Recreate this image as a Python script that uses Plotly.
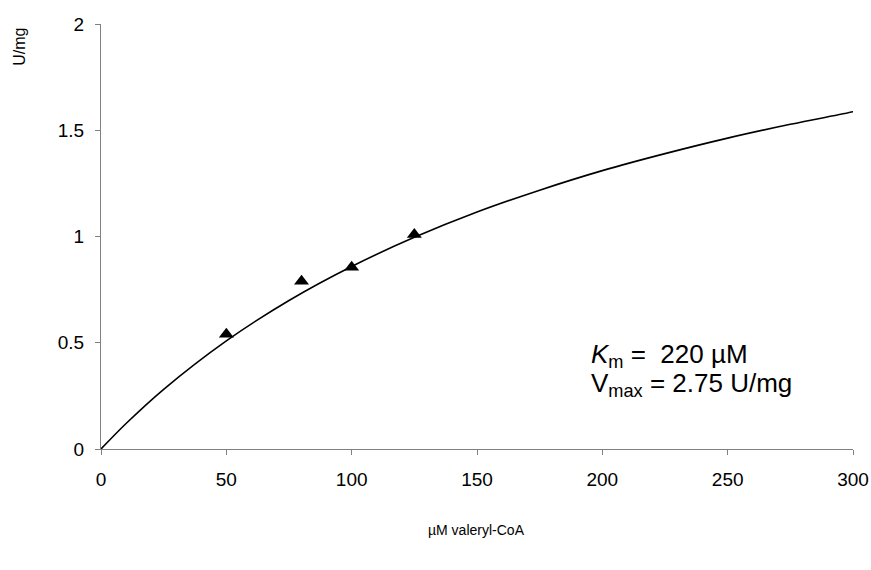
import plotly.graph_objects as go

# Measured data points
substrate_uM = [50, 80, 100, 125]
activity_U_mg = [0.54, 0.79, 0.855, 1.01]

# Fitted curve
fit_x = [0, 10, 25, 50, 75, 100, 125, 150, 175, 200, 225, 250, 275, 300, 303]
fit_y = [0, 0.12, 0.281, 0.509, 0.699, 0.859, 0.996, 1.115, 1.218, 1.31, 1.39, 1.463, 1.528, 1.587, 1.596]

x_ticks = [0, 50, 100, 150, 200, 250, 300]
y_ticks = [0, 0.5, 1, 1.5, 2]
y_tick_labels = ["0", "0.5", "1", "1.5", "2"]

FONT = "Liberation Sans, Arial, sans-serif"

fig = go.Figure()
fig.add_trace(go.Scatter(
    x=fit_x, y=fit_y, mode="lines",
    line=dict(color="black", width=1.6, shape="spline"),
    cliponaxis=False, showlegend=False, hoverinfo="skip"))
fig.add_trace(go.Scatter(
    x=substrate_uM, y=activity_U_mg, mode="markers",
    marker=dict(symbol="triangle-up", size=13, color="black"),
    cliponaxis=False, showlegend=False))

axis_common = dict(
    showgrid=False, zeroline=False, showline=True, automargin=False,
    linecolor="#808080", linewidth=1.3,
    ticks="outside", ticklen=5, tickcolor="#808080", tickwidth=1.3,
    tickfont=dict(family=FONT, size=19, color="black"),
    ticklabeloverflow="allow",
)

fig.update_layout(
    width=871, height=570,
    margin=dict(l=101, r=18, t=24, b=121),
    paper_bgcolor="white", plot_bgcolor="white",
    xaxis=dict(range=[0, 300], tickvals=x_ticks, ticklabelstandoff=8, **axis_common),
    yaxis=dict(range=[0, 2], tickvals=y_ticks, ticktext=y_tick_labels, ticklabelstandoff=7, **axis_common),
    font=dict(family=FONT, color="black"),
)

fig.add_annotation(
    text="\u00b5M valeryl-CoA", xref="paper", yref="paper",
    x=0.499, y=-0.191,
    xanchor="center", yanchor="middle", showarrow=False,
    font=dict(family=FONT, size=14, color="black"))

fig.add_annotation(
    text="U/mg", xref="paper", yref="paper",
    x=-0.108, y=0.946, textangle=-90,
    xanchor="center", yanchor="middle", showarrow=False,
    font=dict(family=FONT, size=16, color="black"))

fig.add_annotation(
    text="<i>K</i><sub>m</sub> =\u00a0 220 \u00b5M",
    xref="paper", yref="paper", x=0.649, y=0.221,
    xanchor="left", yanchor="middle", align="left", showarrow=False,
    font=dict(family=FONT, size=26, color="black"))
fig.add_annotation(
    text="V<sub>max</sub> = 2.75 U/mg",
    xref="paper", yref="paper", x=0.649, y=0.152,
    xanchor="left", yanchor="middle", align="left", showarrow=False,
    font=dict(family=FONT, size=26, color="black"))

fig.write_html("out.html", config={"displayModeBar": False},
               post_script="document.body.style.margin='0';")
